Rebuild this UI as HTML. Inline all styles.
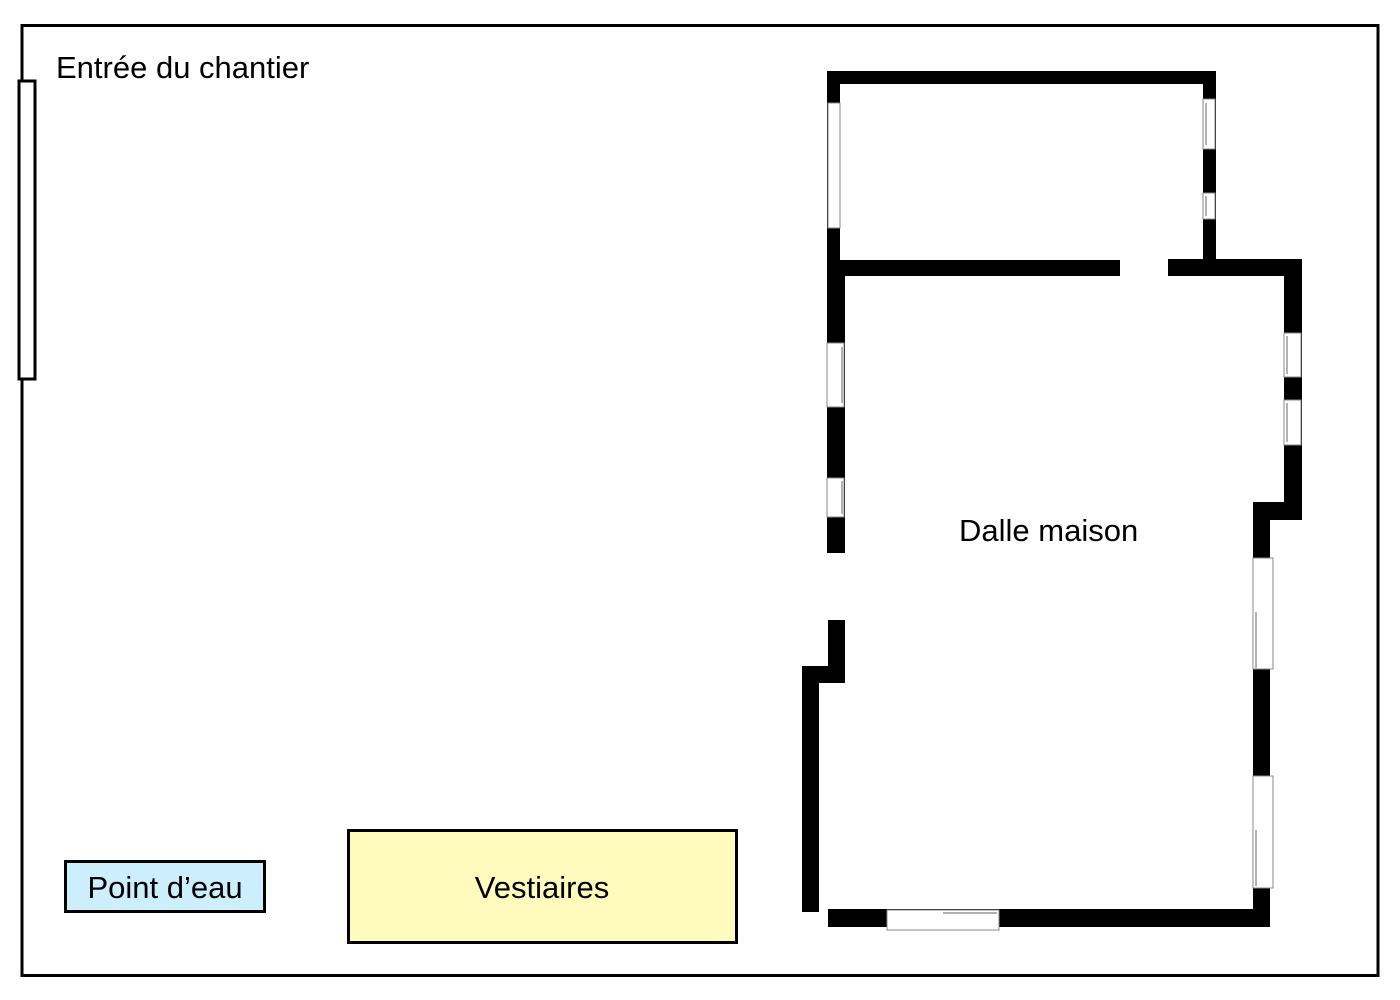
<!DOCTYPE html>
<html><head><meta charset="utf-8"><style>
html,body{margin:0;padding:0;background:#fff;}
svg{display:block;}
text{font-family:"Liberation Sans",Arial,sans-serif;fill:#000;}
</style></head><body>
<svg width="1400" height="1000" viewBox="0 0 1400 1000" xmlns="http://www.w3.org/2000/svg">
<rect x="0" y="0" width="1400" height="1000" fill="#fff"/>
<rect x="22" y="25.5" width="1356" height="950" fill="none" stroke="#000" stroke-width="3"/>
<rect x="19" y="81" width="16" height="298" fill="#fff" stroke="#000" stroke-width="3"/>
<text x="56" y="78" font-size="31">Entrée du chantier</text>

<g fill="#000">
<rect x="827" y="71" width="389" height="13"/>
<rect x="827" y="71" width="13" height="205"/>
<rect x="1203" y="71" width="13" height="205"/>
<rect x="827" y="260" width="293" height="16"/>
<rect x="1168" y="259" width="134" height="17"/>
<rect x="827" y="260" width="18" height="293"/>
<rect x="1284" y="259" width="18" height="261"/>
<rect x="1253" y="502" width="49" height="18"/>
<rect x="1253" y="502" width="17" height="425"/>
<rect x="828" y="620" width="17" height="63"/>
<rect x="802" y="666" width="43" height="17"/>
<rect x="802" y="666" width="17" height="246"/>
<rect x="828" y="909" width="442" height="18"/>
</g>

<g fill="#fff" stroke="#888" stroke-width="1">
<rect x="828" y="103" width="12" height="125"/>
<rect x="1203" y="99" width="12" height="50"/>
<rect x="1203" y="193" width="12" height="26"/>
<rect x="827" y="343" width="17" height="64"/>
<rect x="827" y="478" width="17" height="39"/>
<rect x="1284" y="333" width="17" height="44"/>
<rect x="1284" y="400" width="17" height="45"/>
<rect x="1253" y="558" width="20" height="111"/>
<rect x="1253" y="776" width="20" height="112"/>
<rect x="887" y="910" width="112" height="20"/>
</g>
<g stroke="#999" stroke-width="1.5" fill="none">
<line x1="1206" y1="103" x2="1206" y2="145"/>
<line x1="1206" y1="196" x2="1206" y2="216"/>
<line x1="842" y1="347" x2="842" y2="403"/>
<line x1="842" y1="481" x2="842" y2="514"/>
<line x1="1287" y1="336" x2="1287" y2="374"/>
<line x1="1287" y1="403" x2="1287" y2="442"/>
<line x1="1256" y1="612" x2="1256" y2="668"/>
<line x1="1256" y1="830" x2="1256" y2="886"/>
<line x1="943" y1="913" x2="997" y2="913"/>
</g>

<text x="959" y="541" font-size="31">Dalle maison</text>

<rect x="65.5" y="861.5" width="199" height="50" fill="#cdeefc" stroke="#000" stroke-width="3"/>
<text x="165" y="898" font-size="31" text-anchor="middle">Point d’eau</text>
<rect x="348.5" y="830.5" width="388" height="112" fill="#fefbbd" stroke="#000" stroke-width="3"/>
<text x="542" y="898" font-size="31" text-anchor="middle">Vestiaires</text>
</svg>
</body></html>
